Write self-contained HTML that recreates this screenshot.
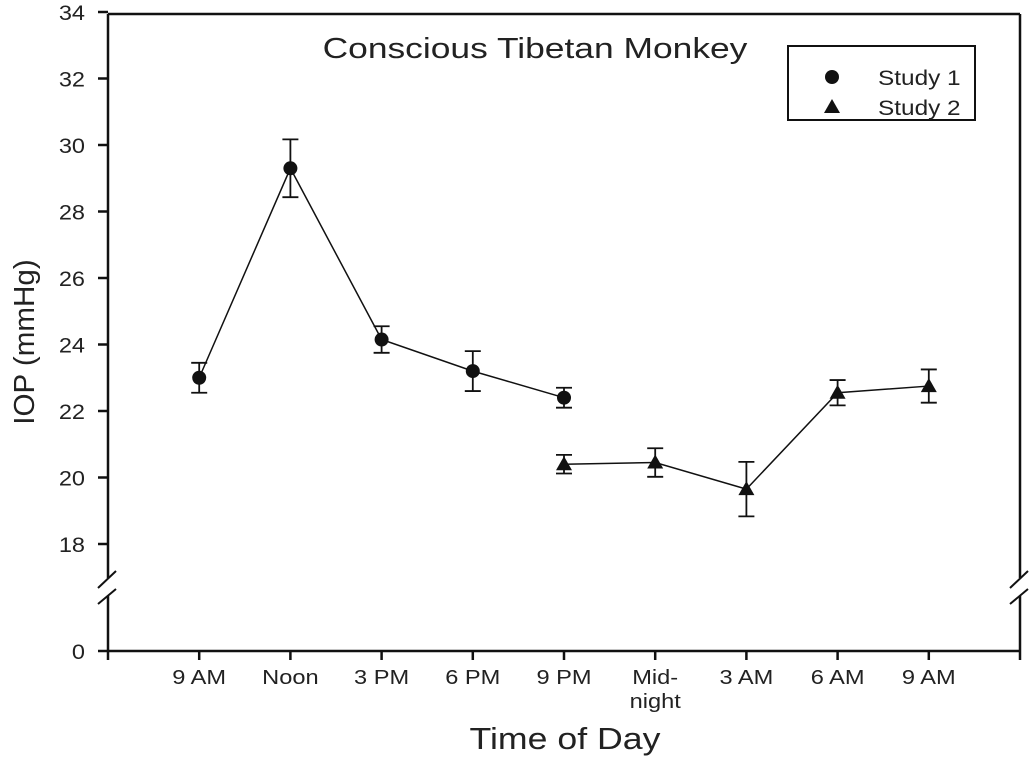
<!DOCTYPE html>
<html><head><meta charset="utf-8"><style>
body{margin:0;background:#fff}
svg text{font-family:"Liberation Sans",Arial,sans-serif;fill:#222}
</style></head><body>
<svg id="c" width="1031" height="761"></svg>
<script>
const categories=["9 AM","Noon","3 PM","6 PM","9 PM","Mid-|night","3 AM","6 AM","9 AM"];
const yTicks=[18,20,22,24,26,28,30,32,34];
const s1Idx=[1,2,3,4,5];
const s1Val=[23.0,29.3,24.15,23.2,22.4];
const s1Err=[0.45,0.87,0.4,0.6,0.3];
const s2Idx=[5,6,7,8,9];
const s2Val=[20.4,20.45,19.65,22.55,22.75];
const s2Err=[0.28,0.43,0.82,0.38,0.5];
const NS="http://www.w3.org/2000/svg";
const svg=document.getElementById('c');
const L=108,R=1020,B=651;
const x=i=>L+(R-L)*i/10;
const y=v=>544-(v-18)*33.25;
function mk(t,a,txt){const e=document.createElementNS(NS,t);for(const k in a)e.setAttribute(k,a[k]);if(txt!=null)e.textContent=txt;svg.appendChild(e);return e;}
function stretch(e,k){const w=e.getComputedTextLength();e.setAttribute('textLength',w*k);e.setAttribute('lengthAdjust','spacingAndGlyphs');}
const ln={stroke:'#111','stroke-width':2.5};
let e;
e=mk('line',{x1:L,y1:14,x2:R,y2:14,...ln});
e=mk('line',{x1:L,y1:B,x2:R,y2:B,...ln});
[L,R].forEach((xx,j)=>{
 e=mk('line',{x1:xx,y1:14,x2:xx,y2:578,...ln});
 e=mk('line',{x1:xx,y1:596,x2:xx,y2:660,...ln});
 e=mk('line',{x1:xx-10,y1:588,x2:xx+8,y2:571,stroke:'#111','stroke-width':2});
 e=mk('line',{x1:xx-10,y1:604,x2:xx+8,y2:589,stroke:'#111','stroke-width':2});
});
yTicks.forEach(v=>{
 e=mk('line',{x1:L-10,y1:y(v),x2:L,y2:y(v),...ln});
 e=mk('text',{x:L-23,y:y(v)+8,'text-anchor':'end','font-size':21},v);
 stretch(e,1.12);
});
e=mk('line',{x1:L-10,y1:B,x2:L,y2:B,...ln});
e=mk('text',{x:L-23,y:B+8,'text-anchor':'end','font-size':21},'0');
stretch(e,1.12);
categories.forEach((c,i)=>{
 const xx=x(i+1);
 e=mk('line',{x1:xx,y1:B,x2:xx,y2:B+9,...ln});
 c.split('|').forEach((p,k)=>{e=mk('text',{x:xx,y:B+33+k*24,'text-anchor':'middle','font-size':20},p);stretch(e,1.18);});
});
function series(idx,val,err,shape,name){
 const pts=idx.map((i,k)=>x(i)+','+y(val[k])).join(' ');
 e=mk('polyline',{points:pts,fill:'none',stroke:'#111','stroke-width':1.5});
 idx.forEach((i,k)=>{
  const xx=x(i),t=y(val[k]+err[k]),b=y(val[k]-err[k]);
  e=mk('path',{d:`M${xx},${t}V${b}M${xx-8},${t}H${xx+8}M${xx-8},${b}H${xx+8}`,stroke:'#111','stroke-width':1.8,fill:'none'});
  const yy=y(val[k]);
  if(shape==='c'){e=mk('circle',{cx:xx,cy:yy,r:7,fill:'#111'});}
  else{e=mk('polygon',{points:`${xx},${yy-8} ${xx-8},${yy+6} ${xx+8},${yy+6}`,fill:'#111'});}
  
 });
}
series(s1Idx,s1Val,s1Err,'c','study-1');
series(s2Idx,s2Val,s2Err,'t','study-2');
e=mk('text',{x:535,y:58,'text-anchor':'middle','font-size':29},'Conscious Tibetan Monkey');
stretch(e,1.22);
e=mk('rect',{x:788,y:46,width:187,height:74,fill:'#fff',stroke:'#111','stroke-width':2});
e=mk('circle',{cx:832,cy:77,r:7,fill:'#111'});
e=mk('text',{x:878,y:85,'font-size':21},'Study 1');
stretch(e,1.16);
e=mk('polygon',{points:'832,99 824,113 840,113',fill:'#111'});
e=mk('text',{x:878,y:115,'font-size':21},'Study 2');
stretch(e,1.16);
e=mk('text',{x:565,y:749,'text-anchor':'middle','font-size':31},'Time of Day');
stretch(e,1.15);
e=mk('text',{x:0,y:0,'text-anchor':'middle','font-size':29,transform:'translate(34,342) rotate(-90)'},'IOP (mmHg)');
stretch(e,1.02);
</script>
</body></html>
